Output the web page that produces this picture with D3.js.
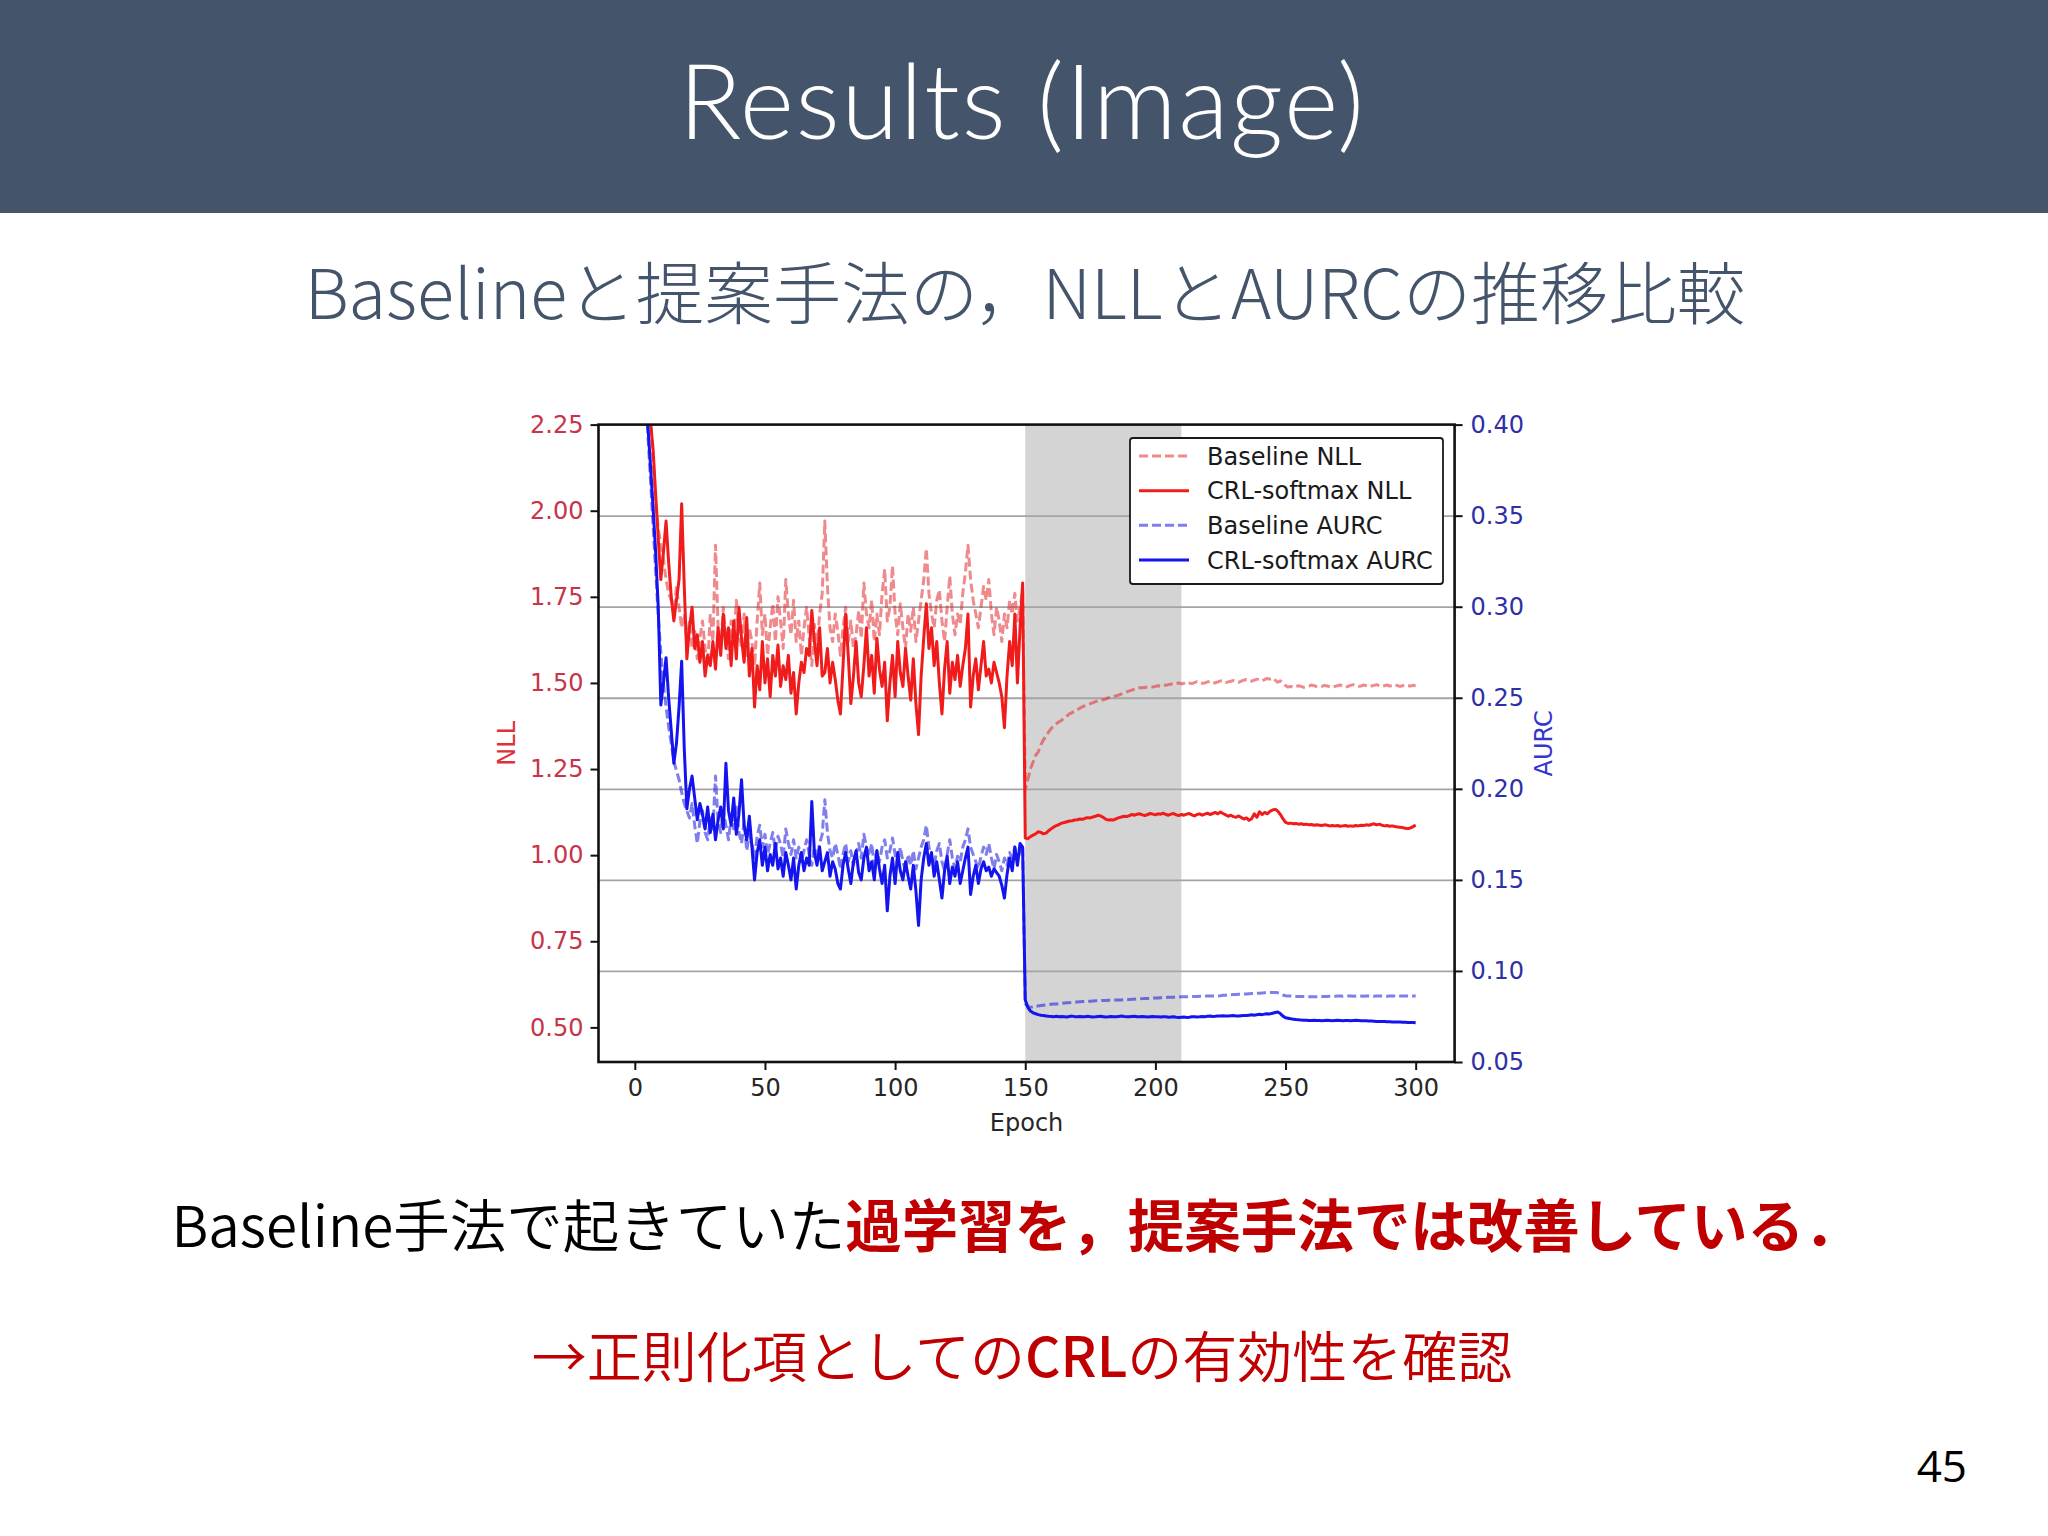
<!DOCTYPE html>
<html><head><meta charset="utf-8">
<script src="https://cdn.jsdelivr.net/npm/d3@7"></script>
<style>body{margin:0;background:#fff}svg{display:block}</style>
</head><body>
<svg id="c" width="2048" height="1536"></svg>
<script>
// ---------------- data ----------------
const epochs = d3.range(1, 301);
const xTicks = [0, 50, 100, 150, 200, 250, 300];
const nllTicks = [0.50, 0.75, 1.00, 1.25, 1.50, 1.75, 2.00, 2.25];
const aurcTicks = [0.05, 0.10, 0.15, 0.20, 0.25, 0.30, 0.35, 0.40];
const shadeRange = [150, 210];
const seriesLabels = ["Baseline NLL", "CRL-softmax NLL", "Baseline AURC", "CRL-softmax AURC"];

const crlNLL = [
3.20,2.80,2.60,2.45,2.35,2.26,2.18,2.05,1.92,1.80,
1.88,1.97,1.85,1.75,1.68,1.74,1.80,2.02,1.78,1.57,
1.66,1.72,1.60,1.64,1.56,1.62,1.52,1.58,1.55,1.62,
1.54,1.66,1.58,1.70,1.60,1.66,1.55,1.68,1.57,1.72,
1.63,1.56,1.69,1.52,1.60,1.43,1.55,1.48,1.62,1.50,
1.57,1.46,1.58,1.52,1.61,1.49,1.55,1.51,1.58,1.47,
1.53,1.41,1.50,1.56,1.53,1.60,1.58,1.71,1.62,1.55,
1.66,1.52,1.53,1.60,1.50,1.56,1.51,1.45,1.41,1.55,
1.70,1.58,1.44,1.52,1.62,1.50,1.46,1.55,1.66,1.52,
1.58,1.47,1.63,1.54,1.49,1.56,1.39,1.50,1.58,1.46,
1.62,1.53,1.49,1.60,1.52,1.45,1.57,1.44,1.35,1.52,
1.63,1.73,1.60,1.66,1.55,1.62,1.50,1.41,1.54,1.62,
1.47,1.56,1.51,1.58,1.49,1.55,1.60,1.70,1.43,1.52,
1.57,1.48,1.55,1.62,1.52,1.54,1.50,1.56,1.53,1.50,
1.46,1.37,1.52,1.62,1.55,1.70,1.50,1.66,1.79,1.050,
1.048,1.054,1.058,1.062,1.068,1.066,1.062,1.064,1.071,1.077,
1.082,1.086,1.089,1.093,1.095,1.097,1.099,1.100,1.102,1.103,
1.105,1.104,1.107,1.109,1.108,1.111,1.113,1.116,1.114,1.109,
1.104,1.102,1.103,1.102,1.106,1.109,1.111,1.113,1.112,1.115,
1.118,1.116,1.119,1.120,1.117,1.115,1.118,1.121,1.119,1.117,
1.120,1.119,1.122,1.118,1.116,1.119,1.121,1.117,1.115,1.118,
1.116,1.119,1.121,1.117,1.114,1.118,1.120,1.116,1.119,1.122,
1.118,1.121,1.124,1.120,1.125,1.121,1.117,1.113,1.116,1.112,
1.110,1.114,1.109,1.105,1.108,1.101,1.106,1.120,1.110,1.126,
1.118,1.124,1.120,1.127,1.131,1.133,1.128,1.118,1.106,1.095,
1.092,1.093,1.091,1.092,1.090,1.091,1.089,1.090,1.088,1.089,
1.087,1.088,1.087,1.086,1.088,1.087,1.085,1.086,1.085,1.086,
1.084,1.085,1.086,1.084,1.085,1.084,1.086,1.085,1.087,1.086,
1.088,1.087,1.089,1.091,1.088,1.090,1.087,1.085,1.086,1.084,
1.085,1.083,1.082,1.081,1.080,1.078,1.077,1.079,1.083,1.087];

const baseNLL = [
3.30,2.85,2.60,2.45,2.35,2.28,2.15,2.02,1.95,1.90,
1.86,1.80,1.76,1.74,1.70,1.78,1.72,1.66,1.70,1.62,
1.68,1.60,1.65,1.57,1.63,1.68,1.60,1.55,1.70,1.62,
1.90,1.66,1.60,1.72,1.63,1.57,1.68,1.62,1.74,1.65,
1.60,1.70,1.58,1.66,1.62,1.55,1.68,1.79,1.64,1.70,
1.58,1.66,1.73,1.62,1.75,1.68,1.60,1.80,1.70,1.64,
1.74,1.62,1.68,1.58,1.66,1.72,1.63,1.55,1.67,1.60,
1.70,1.76,1.97,1.78,1.66,1.62,1.70,1.65,1.58,1.66,
1.72,1.62,1.68,1.60,1.64,1.71,1.63,1.79,1.70,1.66,
1.74,1.62,1.70,1.64,1.76,1.83,1.68,1.72,1.84,1.70,
1.64,1.73,1.66,1.60,1.70,1.65,1.72,1.62,1.68,1.74,
1.80,1.89,1.76,1.70,1.66,1.74,1.77,1.68,1.62,1.72,
1.81,1.70,1.64,1.70,1.67,1.76,1.82,1.90,1.80,1.74,
1.70,1.66,1.72,1.78,1.74,1.80,1.70,1.64,1.72,1.68,
1.62,1.70,1.66,1.74,1.70,1.76,1.68,1.72,1.77,1.19,
1.22,1.25,1.27,1.29,1.30,1.32,1.335,1.345,1.358,1.368,
1.375,1.382,1.387,1.392,1.398,1.404,1.410,1.414,1.418,1.422,
1.427,1.431,1.434,1.437,1.440,1.443,1.446,1.448,1.450,1.451,
1.454,1.457,1.459,1.461,1.463,1.465,1.468,1.471,1.474,1.477,
1.479,1.482,1.484,1.486,1.486,1.487,1.488,1.489,1.488,1.490,
1.492,1.491,1.494,1.493,1.495,1.497,1.496,1.498,1.500,1.497,
1.499,1.503,1.500,1.498,1.501,1.504,1.501,1.499,1.500,1.503,
1.505,1.502,1.500,1.503,1.506,1.504,1.501,1.503,1.505,1.507,
1.504,1.502,1.505,1.508,1.510,1.507,1.505,1.508,1.511,1.509,
1.506,1.510,1.513,1.511,1.514,1.508,1.502,1.506,1.498,1.492,
1.488,1.490,1.487,1.489,1.492,1.490,1.487,1.489,1.491,1.494,
1.492,1.489,1.488,1.490,1.493,1.491,1.489,1.487,1.490,1.492,
1.494,1.491,1.488,1.490,1.493,1.495,1.492,1.490,1.491,1.494,
1.492,1.489,1.491,1.493,1.495,1.492,1.490,1.492,1.494,1.491,
1.493,1.495,1.492,1.490,1.492,1.494,1.492,1.491,1.493,1.492];

const crlAURC = [
0.62,0.52,0.47,0.43,0.40,0.378,0.355,0.330,0.300,0.246,
0.258,0.272,0.250,0.232,0.214,0.225,0.245,0.270,0.222,0.189,
0.200,0.207,0.195,0.183,0.192,0.186,0.178,0.190,0.176,0.186,
0.172,0.183,0.190,0.178,0.214,0.188,0.180,0.195,0.175,0.186,
0.205,0.180,0.172,0.185,0.168,0.150,0.165,0.172,0.158,0.168,
0.155,0.164,0.158,0.170,0.156,0.162,0.152,0.165,0.158,0.150,
0.162,0.145,0.158,0.165,0.155,0.162,0.158,0.193,0.165,0.158,
0.168,0.155,0.160,0.165,0.152,0.160,0.156,0.148,0.145,0.158,
0.165,0.156,0.148,0.160,0.166,0.154,0.150,0.162,0.168,0.155,
0.160,0.150,0.166,0.156,0.148,0.158,0.133,0.152,0.162,0.148,
0.165,0.155,0.150,0.160,0.152,0.145,0.158,0.144,0.125,0.150,
0.162,0.170,0.158,0.165,0.152,0.160,0.150,0.140,0.155,0.163,
0.148,0.157,0.152,0.160,0.148,0.155,0.162,0.168,0.142,0.152,
0.158,0.148,0.156,0.160,0.155,0.157,0.152,0.156,0.154,0.152,
0.147,0.140,0.153,0.162,0.155,0.168,0.158,0.170,0.168,0.084,
0.0800,0.0780,0.0770,0.0765,0.0760,0.0757,0.0755,0.0753,0.0751,0.0750,
0.0749,0.0751,0.0748,0.0750,0.0749,0.0747,0.0750,0.0752,0.0749,0.0748,
0.0750,0.0748,0.0749,0.0751,0.0749,0.0747,0.0748,0.0750,0.0751,0.0749,
0.0747,0.0748,0.0750,0.0749,0.0748,0.0750,0.0752,0.0750,0.0749,0.0748,
0.0750,0.0751,0.0749,0.0748,0.0750,0.0749,0.0747,0.0749,0.0750,0.0749,
0.0748,0.0747,0.0749,0.0748,0.0746,0.0747,0.0748,0.0746,0.0745,0.0746,
0.0747,0.0745,0.0746,0.0748,0.0749,0.0747,0.0748,0.0750,0.0749,0.0751,
0.0752,0.0750,0.0751,0.0753,0.0752,0.0754,0.0753,0.0752,0.0754,0.0755,
0.0753,0.0752,0.0754,0.0756,0.0755,0.0757,0.0759,0.0757,0.0760,0.0762,
0.0760,0.0763,0.0765,0.0764,0.0768,0.0772,0.0775,0.0766,0.0752,0.0743,
0.0740,0.0737,0.0735,0.0733,0.0732,0.0730,0.0729,0.0729,0.0728,0.0728,
0.0729,0.0728,0.0728,0.0727,0.0728,0.0729,0.0728,0.0727,0.0728,0.0729,
0.0728,0.0727,0.0728,0.0728,0.0727,0.0728,0.0729,0.0728,0.0727,0.0726,
0.0726,0.0725,0.0725,0.0724,0.0723,0.0723,0.0722,0.0722,0.0721,0.0721,
0.0720,0.0720,0.0719,0.0719,0.0718,0.0718,0.0717,0.0717,0.0717,0.0716];

const baseAURC = [
0.60,0.51,0.46,0.425,0.395,0.370,0.345,0.320,0.295,0.275,
0.258,0.245,0.234,0.225,0.215,0.210,0.205,0.198,0.192,0.188,
0.184,0.192,0.180,0.170,0.182,0.188,0.176,0.172,0.184,0.178,
0.207,0.182,0.176,0.188,0.180,0.172,0.185,0.178,0.190,0.176,
0.170,0.182,0.166,0.175,0.170,0.162,0.174,0.180,0.168,0.175,
0.164,0.170,0.176,0.166,0.174,0.170,0.162,0.178,0.170,0.164,
0.172,0.162,0.168,0.160,0.166,0.172,0.164,0.158,0.168,0.162,
0.170,0.175,0.194,0.176,0.166,0.162,0.170,0.164,0.156,0.164,
0.170,0.160,0.166,0.158,0.164,0.170,0.162,0.175,0.168,0.163,
0.170,0.158,0.166,0.160,0.168,0.172,0.162,0.166,0.173,0.164,
0.158,0.168,0.160,0.155,0.164,0.158,0.166,0.156,0.162,0.168,
0.172,0.180,0.168,0.162,0.158,0.166,0.170,0.160,0.155,0.164,
0.172,0.162,0.156,0.163,0.160,0.168,0.172,0.178,0.168,0.164,
0.160,0.156,0.163,0.168,0.164,0.170,0.162,0.156,0.164,0.160,
0.155,0.162,0.158,0.165,0.162,0.168,0.160,0.166,0.169,0.0820,
0.0805,0.0800,0.0803,0.0810,0.0808,0.0810,0.0812,0.0814,0.0815,0.0817,
0.0818,0.0819,0.0821,0.0822,0.0824,0.0825,0.0826,0.0828,0.0829,0.0830,
0.0831,0.0832,0.0833,0.0833,0.0834,0.0835,0.0836,0.0836,0.0837,0.0838,
0.0838,0.0839,0.0839,0.0840,0.0840,0.0841,0.0841,0.0842,0.0843,0.0843,
0.0844,0.0845,0.0846,0.0847,0.0848,0.0849,0.0849,0.0850,0.0851,0.0851,
0.0852,0.0853,0.0853,0.0854,0.0855,0.0855,0.0856,0.0857,0.0857,0.0858,
0.0858,0.0858,0.0859,0.0859,0.0860,0.0860,0.0861,0.0861,0.0862,0.0862,
0.0862,0.0863,0.0863,0.0863,0.0864,0.0866,0.0867,0.0868,0.0869,0.0870,
0.0871,0.0872,0.0873,0.0874,0.0874,0.0875,0.0876,0.0876,0.0877,0.0878,
0.0879,0.0880,0.0880,0.0881,0.0882,0.0882,0.0880,0.0875,0.0868,0.0864,
0.0863,0.0862,0.0861,0.0860,0.0860,0.0859,0.0859,0.0858,0.0858,0.0858,
0.0858,0.0858,0.0859,0.0859,0.0860,0.0860,0.0861,0.0861,0.0861,0.0862,
0.0862,0.0861,0.0862,0.0863,0.0862,0.0861,0.0862,0.0863,0.0862,0.0861,
0.0862,0.0863,0.0862,0.0861,0.0862,0.0862,0.0863,0.0862,0.0861,0.0862,
0.0863,0.0862,0.0861,0.0862,0.0863,0.0862,0.0862,0.0861,0.0862,0.0862];

// ---------------- slide ----------------
const svg = d3.select('#c');
svg.append('rect').attr('width', 2048).attr('height', 1536).attr('fill', '#ffffff');
svg.append('rect').attr('width', 2048).attr('height', 213).attr('fill', '#44546a');
svg.append('text').attr('x', 1022).attr('y', 139).attr('text-anchor', 'middle')
  .attr('fill', '#ffffff').style('font-family', 'Lato, "Open Sans", sans-serif')
  .style('font-weight', 300).style('font-size', '104px').style('letter-spacing', '1.5px')
  .text('Results (Image)');
svg.append('text').attr('x', 1025).attr('y', 319).attr('text-anchor', 'middle')
  .attr('fill', '#44546a').style('font-family', '"Noto Sans CJK JP", sans-serif')
  .style('font-weight', 300).style('font-size', '68.5px')
  .text('Baselineと提案手法の，NLLとAURCの推移比較');

const l1 = svg.append('text').attr('x', 1016).attr('y', 1247).attr('text-anchor', 'middle')
  .style('font-family', '"Noto Sans CJK JP", sans-serif').style('font-size', '56.5px');
l1.append('tspan').attr('fill', '#000000').style('font-weight', 350).text('Baseline手法で起きていた');
l1.append('tspan').attr('fill', '#c00000').style('font-weight', 700).text('過学習を，提案手法では改善している．');

const l2 = svg.append('text').attr('x', 1022).attr('y', 1377).attr('text-anchor', 'middle')
  .attr('fill', '#c00000').style('font-family', '"Noto Sans CJK JP", sans-serif').style('font-size', '55px');
l2.append('tspan').style('font-weight', 350).text('→正則化項としての');
l2.append('tspan').style('font-weight', 500).text('CRL');
l2.append('tspan').style('font-weight', 350).text('の有効性を確認');

svg.append('text').attr('x', 1967).attr('y', 1482).attr('text-anchor', 'end').attr('fill', '#000')
  .style('font-family', '"Open Sans", sans-serif').style('font-size', '44px').text('45');

// ---------------- chart ----------------
const M = {l: 598.5, r: 1454.6, t: 424.6, b: 1062};
const x = d3.scaleLinear().domain([-13.95, 314.95]).range([M.l, M.r]);
const yN = d3.scaleLinear().domain([0.3995, 2.25]).range([M.b, M.t]);
const yA = d3.scaleLinear().domain([0.05, 0.40]).range([M.b, M.t]);
const FONT = '"DejaVu Sans", sans-serif';

const chart = svg.append('g');
chart.append('defs').append('clipPath').attr('id', 'clip')
  .append('rect').attr('x', M.l).attr('y', M.t).attr('width', M.r - M.l).attr('height', M.b - M.t);

// shaded span
chart.append('rect').attr('x', x(shadeRange[0])).attr('y', M.t)
  .attr('width', x(shadeRange[1]) - x(shadeRange[0])).attr('height', M.b - M.t)
  .attr('fill', '#d4d4d4');

// grid (from AURC axis)
const grid = chart.append('g').attr('transform', `translate(${M.l},0)`)
  .call(d3.axisRight(yA).tickValues(aurcTicks.slice(1, -1)).tickSize(M.r - M.l).tickFormat(''));
grid.select('.domain').remove();
grid.selectAll('line').attr('stroke', '#a4a4a4').attr('stroke-width', 1.8);

// lines
const lineN = d3.line().x((d, i) => x(epochs[i])).y(d => yN(d));
const lineA = d3.line().x((d, i) => x(epochs[i])).y(d => yA(d));
const plotG = chart.append('g').attr('clip-path', 'url(#clip)');
const styles = [
  {data: baseNLL, gen: lineN, color: 'rgba(225,40,45,0.55)', dash: '9,4'},
  {data: crlNLL, gen: lineN, color: '#f01c1c', dash: null},
  {data: baseAURC, gen: lineA, color: 'rgba(20,20,220,0.55)', dash: '9,4'},
  {data: crlAURC, gen: lineA, color: '#1414ee', dash: null}
];
styles.forEach(s => {
  plotG.append('path').attr('d', s.gen(s.data)).attr('fill', 'none')
    .attr('stroke', s.color).attr('stroke-width', 3)
    .attr('stroke-linejoin', 'round')
    .attr('stroke-dasharray', s.dash);
});

// spines
chart.append('rect').attr('x', M.l).attr('y', M.t).attr('width', M.r - M.l).attr('height', M.b - M.t)
  .attr('fill', 'none').attr('stroke', '#111').attr('stroke-width', 2.6);

// axes
const ax = chart.append('g').attr('transform', `translate(0,${M.b})`)
  .call(d3.axisBottom(x).tickValues(xTicks).tickSize(8).tickPadding(9).tickFormat(d3.format('d')));
const ayL = chart.append('g').attr('transform', `translate(${M.l},0)`)
  .call(d3.axisLeft(yN).tickValues(nllTicks).tickSize(8).tickPadding(7).tickFormat(d3.format('.2f')));
const ayR = chart.append('g').attr('transform', `translate(${M.r},0)`)
  .call(d3.axisRight(yA).tickValues(aurcTicks).tickSize(8).tickPadding(8).tickFormat(d3.format('.2f')));
[ax, ayL, ayR].forEach(a => {
  a.select('.domain').remove();
  a.selectAll('line').attr('stroke', '#111').attr('stroke-width', 2);
  a.selectAll('text').style('font-family', FONT).style('font-size', '24px');
});
ax.selectAll('text').attr('fill', '#262626');
ayL.selectAll('text').attr('fill', '#c8344a');
ayR.selectAll('text').attr('fill', '#2f2fa6');

chart.append('text').attr('x', (M.l + M.r) / 2).attr('y', 1131).attr('text-anchor', 'middle')
  .attr('fill', '#262626').style('font-family', FONT).style('font-size', '24px').text('Epoch');
chart.append('text').attr('transform', `translate(515,${(M.t + M.b) / 2}) rotate(-90)`)
  .attr('text-anchor', 'middle').attr('fill', '#e0303c').style('font-family', FONT).style('font-size', '24px').text('NLL');
chart.append('text').attr('transform', `translate(1552,${(M.t + M.b) / 2}) rotate(-90)`)
  .attr('text-anchor', 'middle').attr('fill', '#3535d0').style('font-family', FONT).style('font-size', '24px').text('AURC');

// legend
const lg = chart.append('g');
lg.append('rect').attr('x', 1130).attr('y', 438).attr('width', 313).attr('height', 146).attr('rx', 3)
  .attr('fill', '#ffffff').attr('stroke', '#1a1a1a').attr('stroke-width', 1.8);
const rowY = d3.scalePoint().domain(seriesLabels).range([456, 560]);
seriesLabels.forEach((lab, i) => {
  const s = styles[i];
  lg.append('line').attr('x1', 1139).attr('x2', 1189).attr('y1', rowY(lab)).attr('y2', rowY(lab))
    .attr('stroke', s.color).attr('stroke-width', 3).attr('stroke-dasharray', s.dash);
  lg.append('text').attr('x', 1207).attr('y', rowY(lab)).attr('dy', '0.36em')
    .attr('fill', '#1a1a1a').style('font-family', FONT).style('font-size', '24px').text(lab);
});
</script>
</body></html>
